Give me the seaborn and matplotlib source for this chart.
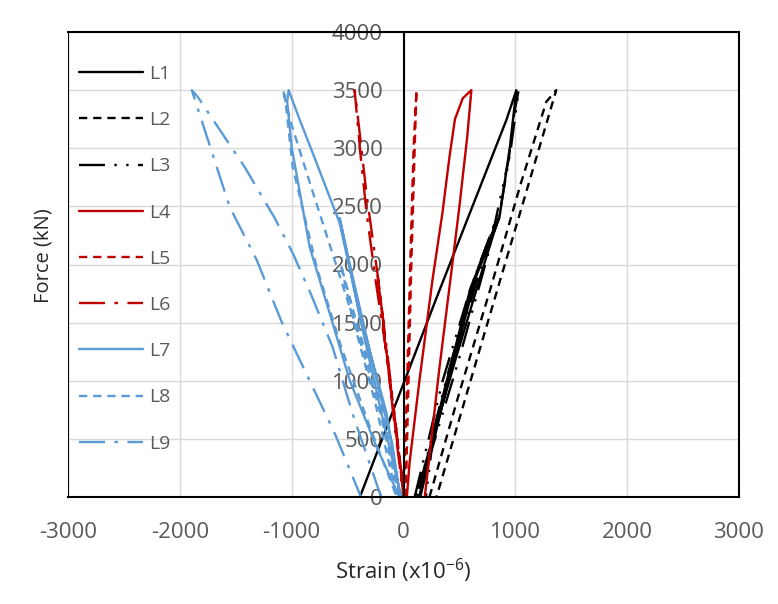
import numpy as np
import pandas as pd
import seaborn as sns
import matplotlib
matplotlib.use("Agg")
import matplotlib.pyplot as plt

# strain (x10^-6) / force (kN) paths, one per gauge
L1_strain = [140, 360, 600, 850, 720, 470, 200, 150, 400, 650, 857, 950, 1009, 920, 290, -390]
L1_force = [0, 900, 1800, 2400, 2000, 1200, 300, 0, 1000, 1900, 2400, 3000, 3500, 3243, 1700, 0]

L2_strain = [232, 500, 780, 1050, 1277, 1366, 1058, 700, 295]
L2_force = [0, 900, 1800, 2700, 3400, 3500, 2495, 1330, 0]

L3_strain = [100, 350, 600, 840, 700, 450, 180, 120, 380, 640, 870, 960, 1030, 990, 940, 760, 500, 250, 200]
L3_force = [0, 1000, 1800, 2400, 2000, 1200, 200, 0, 1000, 1900, 2500, 3000, 3500, 3300, 2900, 2100, 1200, 400, 0]

L4_strain = [30, 54, 143, 259, 348, 411, 460, 530, 607, 570, 500, 430, 320, 190]
L4_force = [0, 292, 1006, 1867, 2443, 2925, 3250, 3430, 3500, 3100, 2500, 1953, 1100, 0]

L5_strain = [20, 40, 70, 100, 116, 90, 60, 30, 0]
L5_force = [0, 800, 2000, 3000, 3500, 3000, 2000, 900, 0]

L6_strain = [0, -63, -160, -250, -330, -380, -437, -400, -330, -230, -140, -50, 10,
             -60, -150, -230, -180, -90, 0]
L6_force = [0, 576, 1290, 1867, 2443, 2900, 3500, 3200, 2600, 1900, 1200, 450, 0,
            500, 1200, 1900, 1500, 700, 0]

L7_strain = [-20, -180, -380, -571, -480, -300, -100, -30, -152, -393, -571, -777, -930,
             -1027, -1040, -1000, -839, -661, -482, -241, -36]
L7_force = [0, 650, 1500, 2400, 2000, 1250, 450, 0, 723, 1583, 2357, 2873, 3250,
            3500, 3400, 3010, 2150, 1583, 1006, 430, 0]

L8_strain = [-40, -200, -420, -620, -820, -1000, -1080, -1060, -991, -777, -560, -300, -60,
             -250, -470, -560, -420, -200, -30]
L8_force = [0, 700, 1450, 2050, 2650, 3200, 3500, 3450, 2840, 1978, 1300, 600, 0,
            800, 1600, 2000, 1500, 800, 0]

L9_strain = [-200, -450, -634, -830, -991, -1152, -1420, -1839, -1893, -1554, -1313, -1089, -616, -380]
L9_force = [0, 700, 1290, 1750, 2099, 2400, 2838, 3441, 3500, 2495, 2040, 1505, 550, 0]

names = ["L1", "L2", "L3", "L4", "L5", "L6", "L7", "L8", "L9"]
strains = [L1_strain, L2_strain, L3_strain, L4_strain, L5_strain,
           L6_strain, L7_strain, L8_strain, L9_strain]
forces = [L1_force, L2_force, L3_force, L4_force, L5_force,
          L6_force, L7_force, L8_force, L9_force]

frames = []
for name, s, f in zip(names, strains, forces):
    frames.append(pd.DataFrame({"series": name, "strain": s, "force": f,
                                "step": np.arange(len(s))}))
df = pd.concat(frames, ignore_index=True)

black, red, blue = "#000000", "#C00000", "#5B9BD5"
palette = {"L1": black, "L2": black, "L3": black,
           "L4": red, "L5": red, "L6": red,
           "L7": blue, "L8": blue, "L9": blue}
dash_pat = {"L1": "", "L2": (3.5, 2.5), "L3": (11, 4, 1, 4, 1, 4),
            "L4": "", "L5": (3.5, 2.5), "L6": (11, 4, 1.5, 4),
            "L7": "", "L8": (3.5, 2.5), "L9": (11, 4, 1.5, 4)}

sns.set_style("white")
plt.rcParams["font.family"] = ["Open Sans", "DejaVu Sans"]
plt.rcParams["mathtext.fontset"] = "custom"
plt.rcParams["mathtext.rm"] = "Open Sans"
plt.rcParams["axes.unicode_minus"] = False
grey_txt = "#595959"

fig = plt.figure(figsize=(7.78, 6.04), dpi=100)
ax = fig.add_axes([68 / 778, 1 - 497 / 604, (739 - 68) / 778, (497 - 32) / 604])

sns.lineplot(data=df, x="strain", y="force", hue="series", style="series",
             palette=palette, dashes=dash_pat, sort=False, estimator=None,
             linewidth=1.7, ax=ax)

ax.set_xlim(-3000, 3000)
ax.set_ylim(0, 4000)
ax.set_xticks(np.arange(-3000, 3001, 1000))
ax.set_yticks(np.arange(0, 4001, 500))
ax.grid(True, color="#D9D9D9", linewidth=1)
ax.set_axisbelow(True)

# value axis crosses at strain = 0, like the spreadsheet original
ax.spines["left"].set_position(("data", 0))
for sp in ax.spines.values():
    sp.set_color("black")
    sp.set_linewidth(1.5)
ax.axvline(-3000, color="black", linewidth=1.5, zorder=3)

ax.tick_params(axis="x", direction="in", length=6, width=1.2, pad=18,
               labelsize=16, colors="black")
ax.tick_params(axis="y", direction="in", length=5, width=1.2, pad=15,
               labelsize=16, colors="black")
for lab in ax.get_xticklabels() + ax.get_yticklabels():
    lab.set_color(grey_txt)

ax.set_xlabel(r"Strain (x10$^{\mathrm{-6}}$)", fontsize=16)
ax.set_ylabel("Force (kN)", fontsize=14.5)
ax.xaxis.set_label_coords(0.5, -0.129)
ax.yaxis.set_label_coords(-0.022, 0.52)

handles, labels = ax.get_legend_handles_labels()
leg = ax.legend(handles, labels, loc="upper left", bbox_to_anchor=(0.016, 0.929),
                frameon=False, fontsize=14, labelspacing=1.45,
                handlelength=3.3, handletextpad=0.3, borderpad=0, borderaxespad=0)
for t in leg.get_texts():
    t.set_color(grey_txt)
for h in leg.get_lines():
    h.set_linewidth(1.7)

fig.savefig("out.png", dpi=100)
